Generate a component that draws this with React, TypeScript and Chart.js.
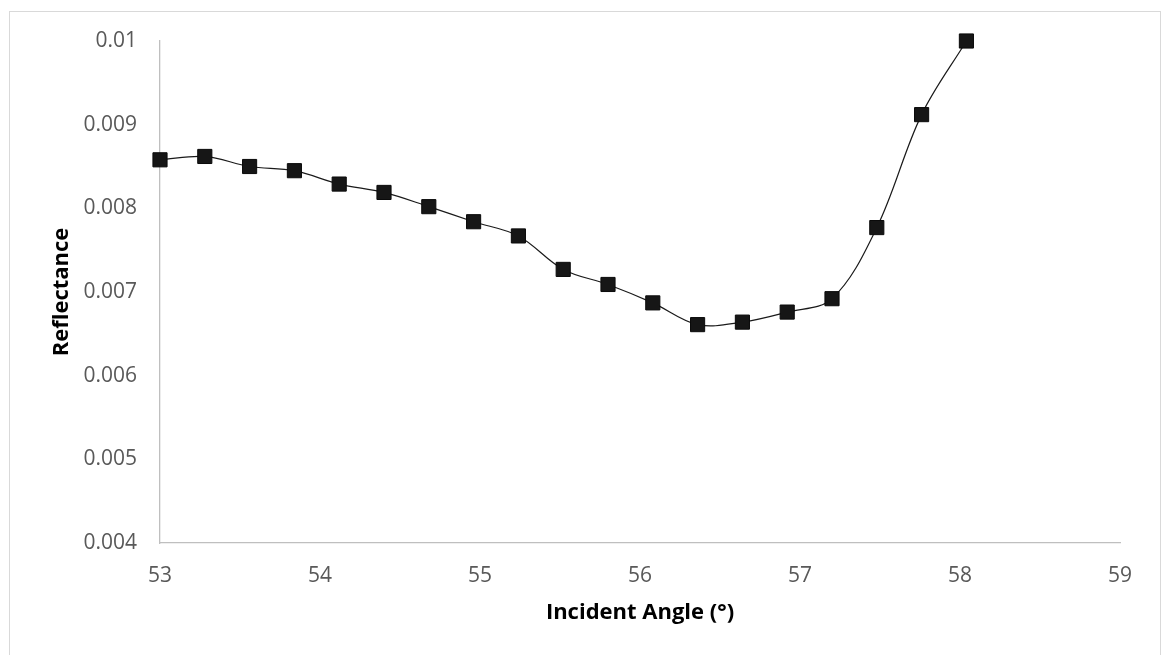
import React, { useEffect, useRef } from "react";
import { Chart, registerables } from "chart.js";

Chart.register(...registerables);

const angles: number[] = [53, 53.28, 53.56, 53.84, 54.12, 54.4, 54.68, 54.96, 55.24, 55.52, 55.8, 56.08, 56.36, 56.64, 56.92, 57.2, 57.48, 57.76, 58.04];
const reflectance: number[] = [0.00858, 0.00862, 0.0085, 0.00845, 0.00829, 0.00819, 0.00802, 0.00784, 0.00767, 0.00727, 0.00709, 0.00687, 0.00661, 0.00664, 0.00676, 0.00692, 0.00777, 0.00912, 0.01];
const xTitle = "Incident Angle (°)";
const yTitle = "Reflectance";

const W = 1162;
const H = 655;

export default function App() {
  const ref = useRef<HTMLCanvasElement | null>(null);
  useEffect(() => {
    if (!ref.current) return;
    const tickFont = { family: "'Open Sans', sans-serif", size: 21 };
    const titleFont = { family: "'Open Sans', sans-serif", size: 22, weight: "bold" as const };
    const chart = new Chart(ref.current, {
      type: "line",
      data: {
        datasets: [
          {
            data: angles.map((a, i) => ({ x: a, y: reflectance[i] })),
            borderColor: "#1a1a1a",
            borderWidth: 1.2,
            tension: 0.35,
            pointStyle: "rect",
            pointRadius: 10,
            pointHoverRadius: 10,
            pointBackgroundColor: "#161616",
            pointBorderColor: "#0a0a0a",
            pointBorderWidth: 1,
            fill: false,
            clip: false as any,
          },
        ],
      },
      options: {
        animation: false,
        responsive: false,
        devicePixelRatio: 1,
        layout: { padding: { top: 41, right: 42, left: 0, bottom: 0 } },
        plugins: { legend: { display: false }, tooltip: { enabled: false } },
        scales: {
          x: {
            type: "linear",
            min: 53,
            max: 59,
            afterFit: (s: any) => { s.height = H - 543; },
            ticks: { stepSize: 1, color: "#595959", font: tickFont, padding: 20, maxRotation: 0 },
            grid: { display: true, drawOnChartArea: false, drawTicks: false },
            border: { color: "#bfbfbf", width: 1.3 },
            title: { display: true, text: xTitle, color: "#000000", font: titleFont, padding: { top: 0, bottom: 29 } },
          },
          y: {
            type: "linear",
            min: 0.004,
            max: 0.01,
            afterFit: (s: any) => { s.width = 160; },
            ticks: {
              stepSize: 0.001,
              color: "#595959",
              font: tickFont,
              padding: 23,
              callback: (v: any) => String(parseFloat(Number(v).toFixed(4))),
            },
            grid: { display: true, drawOnChartArea: false, drawTicks: false },
            border: { color: "#bfbfbf", width: 1.3 },
            title: { display: true, text: yTitle, color: "#000000", font: titleFont, padding: { top: 49, bottom: 0 } },
          },
        },
      },
    });
    return () => chart.destroy();
  }, []);
  return (
    <div style={{ position: "fixed", left: 0, top: 0, width: W, height: H, overflow: "hidden", background: "#ffffff" }}>
      <div style={{ position: "absolute", left: 9, top: 11, width: 1150, height: 700, border: "1px solid #d9d9d9" }} />
      <canvas ref={ref} width={W} height={H} style={{ position: "absolute", left: 0, top: 0, width: W, height: H }} />
    </div>
  );
}
